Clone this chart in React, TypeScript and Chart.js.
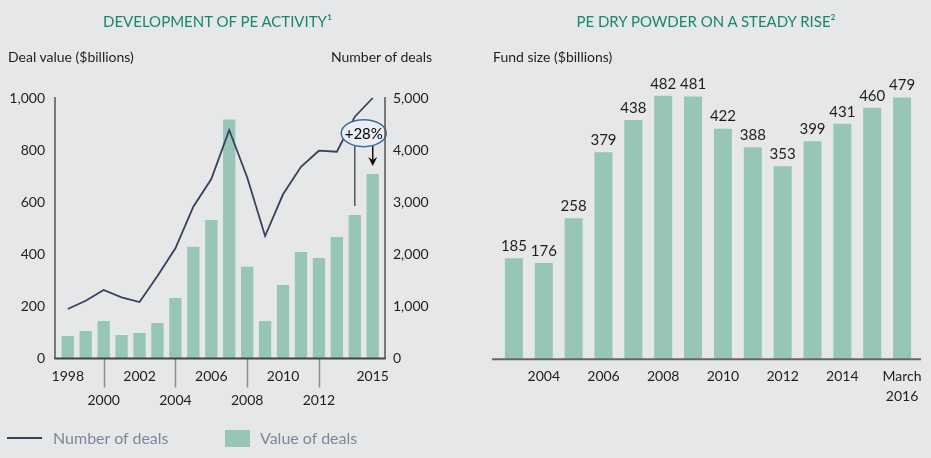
import React, { useEffect, useRef } from 'react';
import { Chart, registerables } from 'chart.js';

Chart.register(...registerables);

// ---------- data ----------
const years = ['1998', '1999', '2000', '2001', '2002', '2003', '2004', '2005', '2006', '2007', '2008', '2009', '2010', '2011', '2012', '2013', '2014', '2015'];
const dealValues = [86, 106, 144, 90, 98, 136, 232, 429, 532, 917, 352, 144, 282, 409, 386, 466, 551, 708];
const dealCounts = [950, 1109, 1315, 1175, 1084, 1583, 2115, 2914, 3445, 4386, 3478, 2351, 3152, 3681, 3988, 3969, 4641, 5000];
const upperRowYears = ['1998', '2002', '2006', '2010', '2015'];
const lowerRowYears = ['2000', '2004', '2008', '2012'];
const annotationLabel = '+28%';
const annotationFrom = '2014';
const annotationTo = '2015';
const annotationLevel = 865; // deal value level of the callout

const powderCategories = ['2003', '2004', '2005', '2006', '2007', '2008', '2009', '2010', '2011', '2012', '2013', '2014', '2015', 'March 2016'];
const powderValues = [185, 176, 258, 379, 438, 482, 481, 422, 388, 353, 399, 431, 460, 479];
const powderShownLabels = ['2004', '2006', '2008', '2010', '2012', '2014', 'March 2016'];

const leftTitle = 'DEVELOPMENT OF PE ACTIVITY¹';
const rightTitle = 'PE DRY POWDER ON A STEADY RISE²';
const leftAxisCaption = 'Deal value ($billions)';
const rightAxisCaption = 'Number of deals';
const fundCaption = 'Fund size ($billions)';
const lineSeriesName = 'Number of deals';
const barSeriesName = 'Value of deals';

// ---------- style ----------
const FONT = 'Lato, "Open Sans", sans-serif';
const BG = '#e6e7e9';
const BAR = '#97c5b7';
const NAVY = '#3c3e5c';
const TITLE = '#17876d';
const TEXT = '#1e1e1e';
const LEGEND_TEXT = '#7d8799';
const FRAME_OUT_L = 3.8;
const FRAME_OUT_R = 3.3;

const framePlugin = {
  id: 'frame',
  afterDraw(chart: any) {
    const { left, right, top, bottom } = chart.chartArea;
    const ctx = chart.ctx;
    const x = chart.scales.x;
    ctx.save();
    ctx.strokeStyle = '#555555';
    ctx.lineWidth = 1.5;
    ctx.beginPath();
    ctx.moveTo(left - FRAME_OUT_L, top - 1);
    ctx.lineTo(left - FRAME_OUT_L, bottom);
    ctx.moveTo(right + FRAME_OUT_R, top - 1);
    ctx.lineTo(right + FRAME_OUT_R, bottom);
    ctx.stroke();
    // lower-row tick marks
    ctx.strokeStyle = '#8a8a8a';
    years.forEach((y, i) => {
      if (lowerRowYears.includes(y)) {
        const px = Math.round(x.getPixelForValue(i)) + 0.5;
        ctx.beginPath();
        ctx.moveTo(px, bottom);
        ctx.lineTo(px, bottom + 29);
        ctx.stroke();
      }
    });
    ctx.strokeStyle = '#444444';
    ctx.lineWidth = 2;
    ctx.beginPath();
    ctx.moveTo(left - FRAME_OUT_L - 0.75, bottom);
    ctx.lineTo(right + FRAME_OUT_R + 0.75, bottom);
    ctx.stroke();
    ctx.restore();
  },
};

const calloutPlugin = {
  id: 'callout',
  afterDatasetsDraw(chart: any) {
    const x = chart.scales.x;
    const y = chart.scales.y;
    const ctx = chart.ctx;
    const iFrom = years.indexOf(annotationFrom);
    const iTo = years.indexOf(annotationTo);
    const xFrom = x.getPixelForValue(iFrom);
    const xTo = x.getPixelForValue(iTo);
    const cx = (xFrom + xTo) / 2;
    const cy = y.getPixelForValue(annotationLevel);
    const rx = 22.5;
    const ry = 13.5;
    const fromTop = y.getPixelForValue(dealValues[iFrom]);
    const toTop = y.getPixelForValue(dealValues[iTo]);
    ctx.save();
    ctx.strokeStyle = '#555555';
    ctx.lineWidth = 1.5;
    ctx.beginPath();
    ctx.moveTo(xFrom, cy);
    ctx.lineTo(xFrom, fromTop - 9);
    ctx.stroke();
    ctx.strokeStyle = '#111111';
    ctx.lineWidth = 1.5;
    const tip = toTop - 8;
    ctx.beginPath();
    ctx.moveTo(xTo, cy);
    ctx.lineTo(xTo, tip - 4);
    ctx.stroke();
    ctx.fillStyle = '#111111';
    ctx.beginPath();
    ctx.moveTo(xTo - 4.5, tip - 9);
    ctx.lineTo(xTo, tip - 6);
    ctx.lineTo(xTo + 4.5, tip - 9);
    ctx.lineTo(xTo, tip);
    ctx.closePath();
    ctx.fill();
    ctx.beginPath();
    ctx.ellipse(cx, cy, rx, ry, 0, 0, Math.PI * 2);
    ctx.fillStyle = '#eaedf1';
    ctx.fill();
    ctx.strokeStyle = '#3b6e99';
    ctx.lineWidth = 1.5;
    ctx.stroke();
    ctx.fillStyle = '#000000';
    ctx.font = `15px ${FONT}`;
    ctx.textAlign = 'center';
    ctx.textBaseline = 'middle';
    ctx.fillText(annotationLabel, cx, cy + 0.5);
    ctx.restore();
  },
};

const baselinePlugin = {
  id: 'baseline',
  afterDatasetsDraw(chart: any) {
    const { left, right, bottom } = chart.chartArea;
    const ctx = chart.ctx;
    ctx.save();
    ctx.strokeStyle = '#666666';
    ctx.lineWidth = 2;
    ctx.beginPath();
    ctx.moveTo(left - 7, bottom);
    ctx.lineTo(right + 4, bottom);
    ctx.stroke();
    ctx.restore();
  },
};

const valueLabelPlugin = {
  id: 'valueLabels',
  afterDatasetsDraw(chart: any) {
    const meta = chart.getDatasetMeta(0);
    const ctx = chart.ctx;
    ctx.save();
    ctx.fillStyle = TEXT;
    ctx.font = `15px ${FONT}`;
    ctx.textAlign = 'center';
    ctx.textBaseline = 'middle';
    meta.data.forEach((bar: any, i: number) => {
      ctx.fillText(String(powderValues[i]), bar.x, bar.y - 12);
    });
    ctx.restore();
  },
};

function LeftChart() {
  const ref = useRef<HTMLCanvasElement>(null);
  useEffect(() => {
    const chart = new Chart(ref.current!, {
      type: 'bar',
      data: {
        labels: years,
        datasets: [
          {
            type: 'line',
            label: lineSeriesName,
            data: dealCounts,
            yAxisID: 'y2',
            borderColor: NAVY,
            borderWidth: 1.8,
            pointRadius: 0,
            tension: 0,
            order: 0,
            clip: false as any,
          } as any,
          {
            type: 'bar',
            label: barSeriesName,
            data: dealValues,
            yAxisID: 'y',
            backgroundColor: BAR,
            categoryPercentage: 1,
            barPercentage: 0.685,
            order: 1,
          },
        ],
      },
      options: {
        responsive: false,
        animation: false,
        devicePixelRatio: 1,
        layout: { padding: { top: 98, left: 0, right: 0, bottom: 0 } },
        plugins: { legend: { display: false }, tooltip: { enabled: false }, title: { display: false } },
        scales: {
          x: {
            offset: true,
            grid: { display: false, drawTicks: false },
            border: { display: false },
            ticks: {
              autoSkip: false,
              maxRotation: 0,
              padding: 5.5,
              color: TEXT,
              font: { family: FONT, size: 14, lineHeight: 24 / 14 },
              callback: (_v: any, i: number) => {
                const y = years[i];
                if (upperRowYears.includes(y)) return y;
                if (lowerRowYears.includes(y)) return ['', y];
                return '';
              },
            },
            afterFit: (s: any) => { s.height = 99.5; },
          },
          y: {
            position: 'left',
            min: 0,
            max: 1000,
            grid: { display: false, drawTicks: false },
            border: { display: false },
            ticks: {
              stepSize: 200,
              padding: 13.8,
              color: TEXT,
              font: { family: FONT, size: 14 },
              callback: (v: any) => Number(v).toLocaleString('en-US'),
            },
            afterFit: (s: any) => { s.width = 58.8; },
          },
          y2: {
            position: 'right',
            min: 0,
            max: 5000,
            grid: { display: false, drawTicks: false },
            border: { display: false },
            ticks: {
              stepSize: 1000,
              padding: 11.3,
              color: TEXT,
              font: { family: FONT, size: 14 },
              callback: (v: any) => Number(v).toLocaleString('en-US'),
            },
            afterFit: (s: any) => { s.width = 78.3; },
          },
        },
      },
      plugins: [framePlugin, calloutPlugin],
    });
    return () => chart.destroy();
  }, []);
  return <canvas ref={ref} width={460} height={458} style={{ position: 'absolute', left: 0, top: 0 }} />;
}

function RightChart() {
  const ref = useRef<HTMLCanvasElement>(null);
  useEffect(() => {
    const chart = new Chart(ref.current!, {
      type: 'bar',
      data: {
        labels: powderCategories,
        datasets: [
          {
            label: 'Fund size',
            data: powderValues,
            backgroundColor: BAR,
            categoryPercentage: 1,
            barPercentage: 0.603,
          },
        ],
      },
      options: {
        responsive: false,
        animation: false,
        devicePixelRatio: 1,
        layout: { padding: { top: 86, left: 39, right: 14, bottom: 0 } },
        plugins: { legend: { display: false }, tooltip: { enabled: false }, title: { display: false } },
        scales: {
          x: {
            offset: true,
            grid: { display: false, drawTicks: false },
            border: { display: false },
            ticks: {
              autoSkip: false,
              maxRotation: 0,
              padding: 6.7,
              color: TEXT,
              font: { family: FONT, size: 14, lineHeight: 20 / 14 },
              callback: (_v: any, i: number) => {
                const c = powderCategories[i];
                if (!powderShownLabels.includes(c)) return '';
                return c.includes(' ') ? c.split(' ') : c;
              },
            },
            afterFit: (s: any) => { s.height = 98.7; },
          },
          y: {
            display: false,
            min: 0,
            max: 500,
          },
        },
      },
      plugins: [baselinePlugin, valueLabelPlugin],
    });
    return () => chart.destroy();
  }, []);
  return <canvas ref={ref} width={471} height={458} style={{ position: 'absolute', left: 460, top: 0 }} />;
}

const textBase: React.CSSProperties = {
  position: 'absolute',
  fontFamily: FONT,
  lineHeight: '20px',
  whiteSpace: 'nowrap',
  margin: 0,
};

export default function App() {
  return (
    <div style={{ position: 'fixed', left: 0, top: 0, width: 931, height: 458, background: BG, overflow: 'hidden' }}>
      <LeftChart />
      <RightChart />
      <div style={{ ...textBase, left: 0, width: 435, top: 11, textAlign: 'center', color: TITLE, fontSize: 15 }}>{leftTitle}</div>
      <div style={{ ...textBase, left: 460, width: 492, top: 11, textAlign: 'center', color: TITLE, fontSize: 15 }}>{rightTitle}</div>
      <div style={{ ...textBase, left: 8, top: 47, color: TEXT, fontSize: 14 }}>{leftAxisCaption}</div>
      <div style={{ ...textBase, right: 931 - 432, top: 47, color: TEXT, fontSize: 14 }}>{rightAxisCaption}</div>
      <div style={{ ...textBase, left: 493, top: 47, color: TEXT, fontSize: 14 }}>{fundCaption}</div>
      <div style={{ position: 'absolute', left: 7, top: 436.5, width: 35, height: 2, background: NAVY }} />
      <div style={{ ...textBase, left: 53, top: 427.5, color: LEGEND_TEXT, fontSize: 16 }}>{lineSeriesName}</div>
      <div style={{ position: 'absolute', left: 225, top: 430, width: 25, height: 17, background: BAR }} />
      <div style={{ ...textBase, left: 260, top: 427.5, color: LEGEND_TEXT, fontSize: 16 }}>{barSeriesName}</div>
    </div>
  );
}
